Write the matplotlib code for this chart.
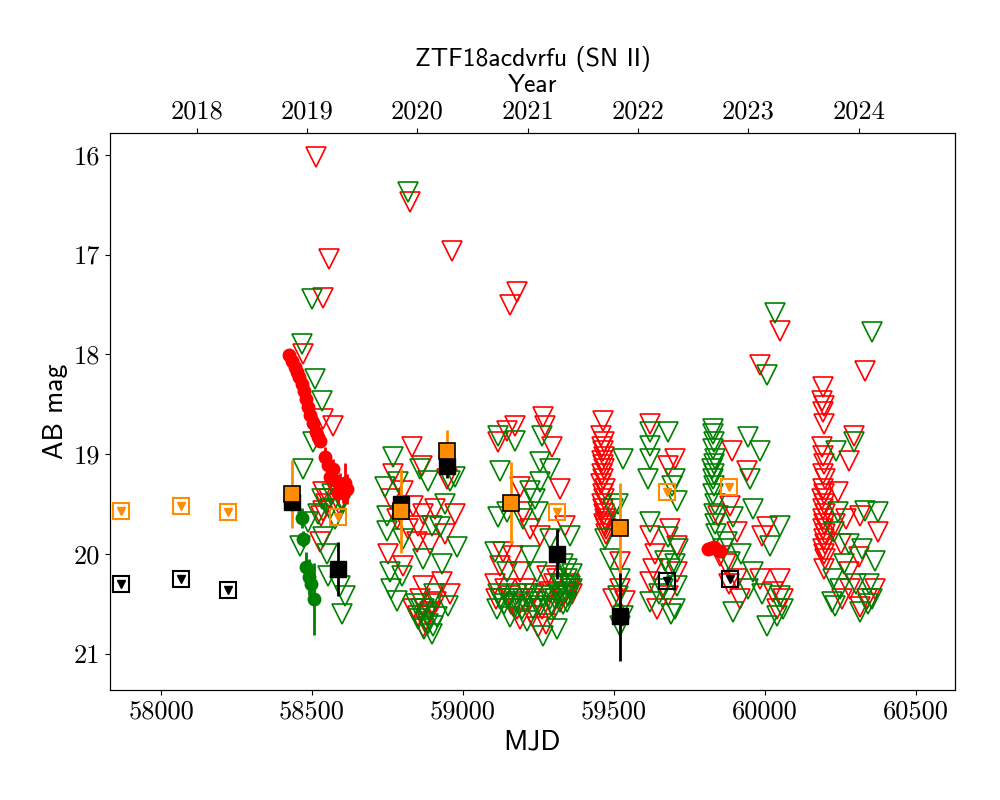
import matplotlib
matplotlib.use("Agg")
import matplotlib.pyplot as plt
import numpy as np

# ---- data (MJD, AB mag) ----
# ZTF r detections
r_mjd = [58424, 58434, 58444, 58450, 58457, 58467, 58473, 58480, 58487, 58493,
         58503, 58513, 58520, 58526, 58543, 58553, 58569, 58560, 58579, 58593,
         58609, 58603, 58586, 58616, 59811, 59821, 59831, 59851]
r_mag = [18.01, 18.07, 18.13, 18.18, 18.23, 18.30, 18.37, 18.45, 18.53, 18.61,
         18.69, 18.78, 18.83, 18.87, 19.03, 19.11, 19.15, 19.23, 19.27, 19.31,
         19.29, 19.37, 19.39, 19.35, 19.95, 19.94, 19.93, 19.97]
r_err = [0.02, 0.02, 0.02, 0.02, 0.03, 0.03, 0.03, 0.03, 0.04, 0.04,
         0.04, 0.05, 0.05, 0.05, 0.10, 0.08, 0.10, 0.12, 0.10, 0.12,
         0.20, 0.12, 0.10, 0.15, 0.04, 0.04, 0.04, 0.05]

# ZTF g detections
g_mjd = [58467, 58470, 58480, 58490, 58497, 58507]
g_mag = [19.64, 19.85, 20.13, 20.23, 20.30, 20.45]
g_err = [0.10, 0.08, 0.15, 0.18, 0.20, 0.36]

# binned points: orange and black
o_mjd = [58433, 58794, 58948, 59158, 59520]
o_mag = [19.40, 19.57, 18.97, 19.49, 19.74]
o_err = [0.34, 0.42, 0.21, 0.41, 0.45]
c_mjd = [58433, 58587, 58794, 58948, 59312, 59520]
c_mag = [19.48, 20.15, 19.50, 19.12, 20.00, 20.62]
c_err = [0.10, 0.27, 0.10, 0.12, 0.25, 0.45]

# upper limits of the binned points
o_lim_mjd = [57867, 58067, 58223, 58587, 59312, 59676, 59881]
o_lim_mag = [19.57, 19.52, 19.58, 19.63, 19.58, 19.38, 19.33]
c_lim_mjd = [57867, 58067, 58223, 59676, 59884]
c_lim_mag = [20.30, 20.25, 20.36, 20.27, 20.25]

# ZTF r upper limits
rl_mjd = [58513, 58556, 58536, 58471, 58537, 58571, 58537, 58537, 58526, 58545, 58530,
          58555, 58575, 58590,
          58824, 58963, 58830, 58863, 58769, 58802, 58946, 58835, 58868, 58907, 58973,
          58852, 58819, 58846, 58891, 58752, 58802, 58929, 58868, 58858, 58957, 58868,
          58835, 58896, 58880, 58760, 58780, 58940, 58875, 58890, 58850, 58910,
          59156, 59179, 59266, 59271, 59172, 59145, 59117, 59293, 59321, 59189, 59338,
          59200, 59222, 59255, 59133, 59166, 59123, 59189, 59277, 59332, 59156, 59222,
          59293, 59249, 59227, 59106, 59140, 59300, 59360, 59180,
          59110, 59160, 59205, 59235, 59260, 59285, 59320, 59350, 59190, 59275, 59310, 59355,
          59462, 59458, 59466, 59460, 59464, 59468, 59459, 59463, 59467, 59461, 59465,
          59458, 59469, 59462, 59466, 59460, 59464, 59468, 59470, 59466, 59472, 59474,
          59475, 59470,
          59520, 59520, 59536, 59497, 59619, 59702, 59680, 59619, 59685, 59708, 59636,
          59630, 59708, 59619, 59641, 59680,
          59983, 60050, 59889, 59939, 59845, 59884, 59906, 60005, 59989, 59851, 59906,
          59983, 60050, 60028, 59917, 60038, 59870, 59880, 60060,
          60192, 60330, 60190, 60194, 60192, 60196, 60190, 60193, 60195, 60191, 60197,
          60192, 60194, 60190, 60196, 60193, 60198, 60191, 60195, 60192, 60197, 60194,
          60199, 60193, 60196, 60200, 60195,
          60295, 60279, 60243, 60315, 60375, 60268, 60310, 60279, 60254, 60315, 60364,
          60337, 60281, 60230, 60250]
rl_mag = [16.02, 17.04, 17.43, 18.00, 18.65, 18.72, 19.38, 19.57, 19.88, 19.50, 19.62,
          19.45, 19.35, 19.50,
          16.47, 16.96, 18.93, 19.12, 19.20, 19.37, 19.25, 19.52, 19.60, 19.55, 19.60,
          19.72, 19.75, 19.88, 19.90, 20.00, 20.12, 20.28, 20.32, 20.45, 20.40, 20.73,
          20.55, 20.50, 20.62, 19.45, 19.65, 19.80, 20.68, 20.58, 20.62, 20.48,
          17.50, 17.37, 18.63, 18.72, 18.72, 18.77, 18.88, 18.93, 19.35, 19.33, 19.72,
          19.58, 19.75, 19.82, 19.98, 20.02, 20.12, 20.18, 20.22, 20.42, 20.42, 20.45,
          20.52, 20.73, 20.62, 20.30, 20.35, 20.30, 20.40, 20.55,
          20.45, 20.50, 20.35, 20.40, 20.55, 20.38, 20.48, 20.30, 20.65, 20.70, 20.25, 20.35,
          18.67, 18.82, 18.88, 18.93, 18.97, 19.03, 19.07, 19.11, 19.15, 19.20, 19.25,
          19.30, 19.35, 19.40, 19.45, 19.50, 19.55, 19.60, 19.65, 19.70, 19.75, 19.80,
          19.68, 19.72,
          20.08, 20.35, 20.47, 20.45, 18.70, 19.05, 19.12, 19.82, 19.75, 19.92, 20.00,
          20.15, 20.18, 20.28, 20.55, 20.42,
          18.11, 17.76, 18.97, 19.17, 19.62, 19.52, 19.78, 19.73, 19.82, 20.02, 20.25,
          20.25, 20.25, 20.38, 20.45, 20.55, 20.10, 20.30, 20.45,
          18.33, 18.17, 18.47, 18.52, 18.58, 18.70, 18.93, 19.02, 19.10, 19.20, 19.25,
          19.35, 19.40, 19.45, 19.50, 19.55, 19.60, 19.65, 19.70, 19.75, 19.80, 19.85,
          19.90, 19.95, 20.00, 20.05, 20.15,
          18.82, 19.07, 19.38, 19.62, 19.78, 19.65, 20.03, 20.18, 20.45, 20.53, 20.35,
          20.45, 20.35, 19.70, 19.90]

# ZTF g upper limits
gl_mjd = [58500, 58466, 58510, 58532, 58504, 58471, 58532, 58598, 58488, 58460, 58537,
          58554, 58593, 58609, 58598, 58560, 58575, 58548, 58520, 58565, 58585, 58600,
          58818, 58769, 58858, 58742, 58786, 58885, 58957, 58973, 58747, 58896, 58924,
          58747, 58979, 58868, 58758, 58797, 58780, 58951, 58852, 58885, 58896, 58913,
          58870, 58800, 58930, 58905, 58760, 58940, 58860, 58880, 58900, 58872, 58845,
          59260, 59117, 59172, 59255, 59288, 59123, 59255, 59222, 59238, 59354, 59145,
          59117, 59200, 59249, 59288, 59106, 59222, 59145, 59244, 59343, 59332, 59315,
          59123, 59166, 59200, 59255, 59288, 59354, 59349, 59156, 59211, 59266, 59310,
          59111, 59330, 59340, 59300, 59180, 59135, 59230,
          59115, 59150, 59175, 59195, 59215, 59240, 59265, 59285, 59305, 59325, 59345,
          59360, 59320, 59345, 59360, 59330,
          59530, 59497, 59513, 59520, 59514, 59530, 59520, 59487, 59470, 59619, 59680,
          59619, 59619, 59613, 59702, 59691, 59708, 59619, 59680, 59713, 59669, 59702,
          59685, 59619, 59702, 59663, 59708, 59690, 59650,
          59829, 59827, 59831, 59828, 59833, 59830, 59826, 59832, 59829, 59831, 59828,
          59833, 59830, 59835, 59838,
          60033, 60006, 59945, 59983, 59950, 59895, 59961, 59873, 60050, 60016, 59884,
          59961, 60050, 59945, 59895, 60005, 60038, 59860, 59920, 60060, 59990,
          60354, 60235, 60295, 60243, 60332, 60375, 60228, 60279, 60321, 60364, 60226,
          60248, 60221, 60315, 60354, 60340, 60260, 60300, 60345, 60230]
gl_mag = [17.44, 17.90, 18.25, 18.47, 18.88, 19.15, 19.45, 19.48, 19.68, 19.92, 19.83,
          20.22, 20.32, 20.42, 20.60, 19.55, 19.65, 20.00, 19.60, 19.40, 19.55, 19.45,
          16.37, 19.03, 19.15, 19.33, 19.28, 19.27, 19.27, 19.23, 19.62, 19.72, 19.73,
          19.77, 19.93, 20.05, 20.18, 20.22, 20.47, 20.52, 20.65, 20.70, 20.80, 20.63,
          20.55, 19.85, 20.10, 20.40, 20.35, 19.50, 20.55, 20.60, 20.72, 20.75, 20.50,
          18.82, 18.82, 18.87, 19.08, 19.15, 19.17, 19.28, 19.37, 19.45, 19.82, 19.58,
          19.63, 19.65, 19.58, 19.85, 19.98, 20.02, 20.18, 20.18, 20.15, 20.32, 20.40,
          20.45, 20.52, 20.45, 20.52, 20.45, 20.32, 20.42, 20.63, 20.67, 20.82, 20.75,
          20.55, 20.50, 20.38, 20.55, 20.40, 20.50, 20.55,
          20.40, 20.45, 20.48, 20.55, 20.40, 20.48, 20.42, 20.55, 20.45, 20.42, 20.48,
          20.35, 20.30, 20.25, 20.20, 20.10,
          19.05, 19.55, 19.50, 20.25, 20.42, 20.62, 20.72, 20.05, 19.85, 18.78, 18.78,
          18.92, 19.05, 19.25, 19.25, 19.32, 19.47, 19.68, 19.83, 19.95, 20.07, 20.10,
          20.15, 20.48, 20.55, 20.35, 20.32, 20.60, 20.40,
          18.75, 18.80, 18.88, 18.95, 19.05, 19.10, 19.15, 19.20, 19.25, 19.32, 19.40,
          19.50, 19.60, 19.70, 19.80,
          17.58, 18.21, 18.83, 18.97, 19.25, 19.63, 19.55, 19.88, 19.72, 19.92, 20.08,
          20.18, 20.42, 20.35, 20.58, 20.72, 20.62, 19.95, 20.00, 20.55, 20.40,
          17.77, 18.97, 18.88, 19.58, 19.57, 19.58, 19.78, 19.90, 19.95, 20.07, 20.25,
          20.35, 20.48, 20.58, 20.45, 20.50, 20.10, 20.30, 20.30, 20.52]

years = [2018, 2019, 2020, 2021, 2022, 2023, 2024]
year_mjd = [58119, 58484, 58849, 59215, 59580, 59945, 60310]

# ---- plot ----
plt.rcParams['font.size'] = 19
plt.rcParams['axes.unicode_minus'] = False
sans = 'cmss10'
serif = 'cmr10'

fig, ax = plt.subplots(figsize=(10, 8), dpi=100)
fig.subplots_adjust(left=0.11, right=0.955, bottom=0.1375, top=0.834)

ax.plot(rl_mjd, rl_mag, ls='none', marker='v', ms=14, mfc='none', mec='red', mew=1.2)
ax.plot(gl_mjd, gl_mag, ls='none', marker='v', ms=14, mfc='none', mec='green', mew=1.2)

ax.errorbar(r_mjd, r_mag, yerr=r_err, fmt='o', color='red', ms=9, elinewidth=2)
ax.errorbar(g_mjd, g_mag, yerr=g_err, fmt='o', color='green', ms=9, elinewidth=2)

ax.errorbar(c_mjd, c_mag, yerr=c_err, fmt='s', color='black', mec='black', ms=12, elinewidth=2)
ax.errorbar(o_mjd, o_mag, yerr=o_err, fmt='s', color='darkorange', mec='black',
            ecolor='darkorange', ms=12, mew=1.2, elinewidth=2)

ax.plot(o_lim_mjd, o_lim_mag, ls='none', marker='s', ms=12, mfc='none', mec='darkorange', mew=1.5)
ax.plot(o_lim_mjd, o_lim_mag, ls='none', marker='v', ms=6, color='darkorange')
ax.plot(c_lim_mjd, c_lim_mag, ls='none', marker='s', ms=12, mfc='none', mec='black', mew=1.5)
ax.plot(c_lim_mjd, c_lim_mag, ls='none', marker='v', ms=6, color='black')

ax.set_xlim(57831, 60629)
ax.set_ylim(21.36, 15.78)
ax.set_xticks(np.arange(58000, 60501, 500))
ax.set_yticks(range(16, 22))
for lab in ax.get_xticklabels() + ax.get_yticklabels():
    lab.set_family(serif)
ax.set_xlabel('MJD', family=sans, fontsize=20)
ax.set_ylabel('AB mag', family=sans, fontsize=20)

ax2 = ax.twiny()
ax2.set_xlim(ax.get_xlim())
ax2.set_xticks(year_mjd)
ax2.set_xticklabels([str(y) for y in years], family=serif)
ax2.set_xlabel('Year', family=sans, fontsize=18.5, labelpad=5)
ax2.set_title('ZTF18acdvrfu (SN II)', family=sans, fontsize=18.5, pad=6)

fig.savefig('out.png', dpi=100)
